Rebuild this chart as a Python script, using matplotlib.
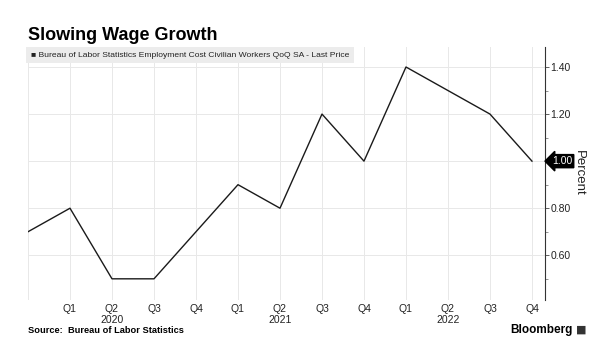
import matplotlib
matplotlib.use("Agg")
import matplotlib.pyplot as plt
from matplotlib.ticker import FixedLocator

quarters = ["Q4", "Q1", "Q2", "Q3", "Q4", "Q1", "Q2", "Q3", "Q4", "Q1", "Q2", "Q3", "Q4"]
years = {2: "2020", 6: "2021", 10: "2022"}
values = [0.70, 0.80, 0.50, 0.50, 0.70, 0.90, 0.80, 1.20, 1.00, 1.40, 1.30, 1.20, 1.00]
last_value = values[-1]

plt.rcParams['font.family'] = ['Liberation Sans', 'DejaVu Sans']
fig = plt.figure(figsize=(6, 3.5), dpi=100)
ax = fig.add_axes([28/600, 1-300/350, (545-28)/600, (300-47)/350])

x = list(range(len(values)))
ax.plot(x, values, color="#1a1a1a", lw=1.0)

ax.set_xlim(0, 12.31)
ax.set_ylim(0.41, 1.485)

ax.yaxis.tick_right()
ax.yaxis.set_major_locator(FixedLocator([0.6, 0.8, 1.0, 1.2, 1.4]))
ax.yaxis.set_minor_locator(FixedLocator([0.5, 0.7, 0.9, 1.1, 1.3]))
ax.set_yticklabels(["0.60", "0.80", "1.00", "1.20", "1.40"], fontsize=7.5, color="#222222")
ax.tick_params(axis="y", which="major", length=3, width=0.6, pad=1, color="#444444", direction="out")
ax.tick_params(axis="y", which="minor", length=2, width=0.5, color="#666666")
fig.text(579/600, 1-173/350, "Percent", fontsize=9.5, rotation=270, va="center", ha="center", color="#222222")

ax.set_xticks(x[1:])
labels = []
for i in x[1:]:
    lab = quarters[i]
    if i in years:
        lab += "\n" + years[i]
    labels.append(lab)
ax.set_xticklabels(labels, fontsize=7.5, color="#222222", linespacing=1.05)
ax.tick_params(axis="x", length=0, pad=3)

ax.grid(True, axis="x", color="#e8e8e8", lw=0.7)
ax.grid(True, axis="y", which="major", color="#e8e8e8", lw=0.7)
ax.axvline(0, color="#e8e8e8", lw=0.7, zorder=0)

for s in ["top", "left", "bottom"]:
    ax.spines[s].set_visible(False)
ax.spines["right"].set_color("#333333")
ax.spines["right"].set_linewidth(0.8)

ax.annotate(f"{last_value:.2f}", xy=(1.0, last_value), xycoords=("axes fraction", "data"),
            xytext=(5, 0), textcoords="offset points", va="center", ha="left",
            fontsize=7.5, color="white",
            bbox=dict(boxstyle="larrow,pad=0.15", fc="black", ec="black"))
for t in ax.get_yticklabels():
    if t.get_text() == "1.00":
        t.set_visible(False)

fig.text(28/600, 1-40/350, "Slowing Wage Growth", fontsize=13, fontweight="bold", va="baseline", ha="left")
ax.text(0.006, 0.982, "\u25a0 Bureau of Labor Statistics Employment Cost Civilian Workers QoQ SA - Last Price",
        transform=ax.transAxes, fontsize=6.1, va="top", ha="left", color="#222222",
        bbox=dict(boxstyle="square,pad=0.55", fc="#ececec", ec="none"))
fig.text(28/600, 1-333/350, "Source:  Bureau of Labor Statistics", fontsize=6.7, fontweight="bold", va="baseline", ha="left")
fig.text(573/600, 1-333/350, "Bloomberg", fontsize=8.5, fontweight="bold", va="baseline", ha="right")
fig.text(586/600, 1-333/350, "\u25a0", fontsize=8, va="baseline", ha="right", color="#333333", family=['DejaVu Sans'])

fig.savefig("out.png", dpi=100, facecolor="white")
